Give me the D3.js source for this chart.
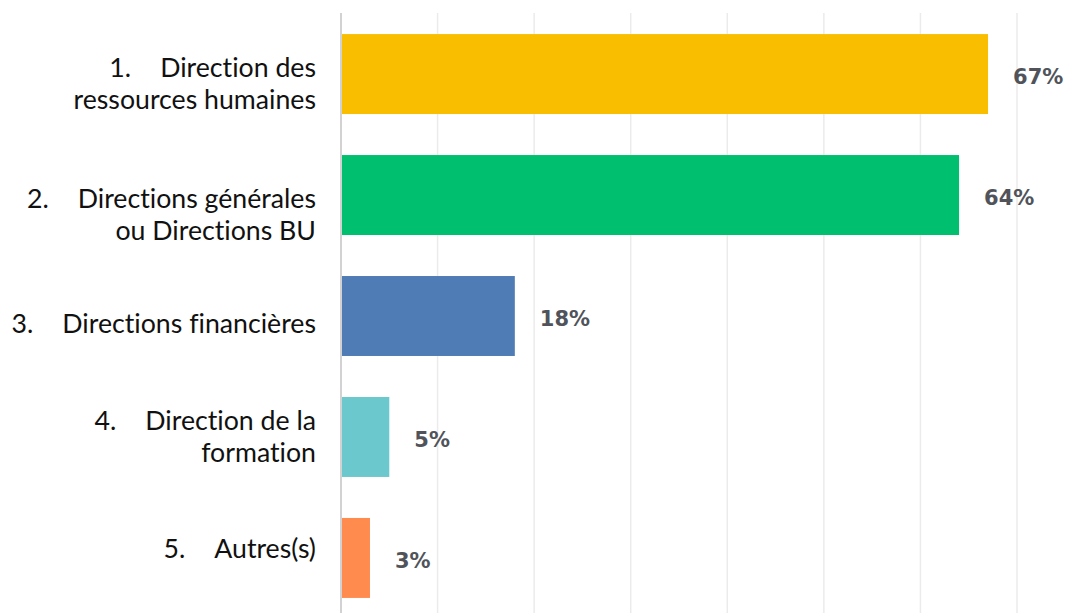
<!DOCTYPE html>
<html>
<head>
<meta charset="utf-8">
<script src="https://cdn.jsdelivr.net/npm/d3@7"></script>
<style>
  body { margin: 0; background: #fff; }
  svg { display: block; }
  text { font-variant-ligatures: none; }
</style>
</head>
<body>
<div id="chart"></div>
<script>
// data
const numbers = ["1.", "2.", "3.", "4.", "5."];
const categories = [
  "Direction des\nressources humaines",
  "Directions générales\nou Directions BU",
  "Directions financières",
  "Direction de la\nformation",
  "Autres(s)"
];
const values = [67, 64, 18, 5, 3];
const ticks = [0, 10, 20, 30, 40, 50, 60, 70];
const palette = ["#F9BE00", "#00BF6F", "#507CB6", "#6BC8CD", "#FF8B4F"];

// small vertical nudges of the left labels (they are not perfectly centered in the original)
const labelDy = [10, 20, 8, 0, -9];

const width = 1068, height = 613;

const svg = d3.select("#chart")
    .append("svg")
    .attr("width", width)
    .attr("height", height);

const x = d3.scaleLinear().domain([0, 70]).range([341, 1017]);
const y = d3.scaleBand()
    .domain(categories)
    .range([13.5, 618.5])
    .paddingInner(0.339)
    .paddingOuter(0.17);

// grid
svg.append("g")
    .selectAll("line")
    .data(ticks.slice(1))
    .join("line")
    .attr("x1", d => x(d))
    .attr("x2", d => x(d))
    .attr("y1", 13)
    .attr("y2", height)
    .attr("stroke", "#ebebeb")
    .attr("stroke-width", 1.5);

svg.append("line")
    .attr("x1", x(0))
    .attr("x2", x(0))
    .attr("y1", 13)
    .attr("y2", height)
    .attr("stroke", "#d2d2d2")
    .attr("stroke-width", 2);

// bars
svg.append("g")
    .selectAll("rect")
    .data(values)
    .join("rect")
    .attr("x", x(0) + 1)
    .attr("y", (d, i) => y(categories[i]))
    .attr("width", d => x(d) - x(0) - 1)
    .attr("height", y.bandwidth())
    .attr("fill", (d, i) => palette[i]);

// value labels
svg.append("g")
    .selectAll("text")
    .data(values)
    .join("text")
    .attr("x", d => x(d) + 25)
    .attr("y", (d, i) => y(categories[i]) + y.bandwidth() / 2 + 10)
    .attr("font-family", "DejaVu Sans, sans-serif")
    .attr("font-weight", "bold")
    .attr("font-size", "21px")
    .attr("fill", "#50545a")
    .text(d => d + "%");

// category labels
const labelX = 316;
const lineH = 32;
const fs = "26.7px";
categories.forEach((c, i) => {
  const lines = c.split("\n");
  const mid = y(c) + y.bandwidth() / 2;
  const y0 = mid - (lines.length - 1) * lineH / 2 + 9 + labelDy[i];
  const t = svg.append("text")
      .attr("text-anchor", "end")
      .attr("font-family", "Lato, sans-serif")
      .attr("font-size", fs)
      .attr("fill", "#111");
  lines.forEach((ln, k) => {
    t.append("tspan")
        .attr("x", labelX)
        .attr("y", y0 + k * lineH)
        .text(ln);
  });
  const w = t.select("tspan").node().getComputedTextLength();
  svg.append("text")
      .attr("x", labelX - w - 29)
      .attr("y", y0)
      .attr("text-anchor", "end")
      .attr("font-family", "Lato, sans-serif")
      .attr("font-size", fs)
      .attr("fill", "#111")
      .text(numbers[i]);
});
</script>
</body>
</html>
